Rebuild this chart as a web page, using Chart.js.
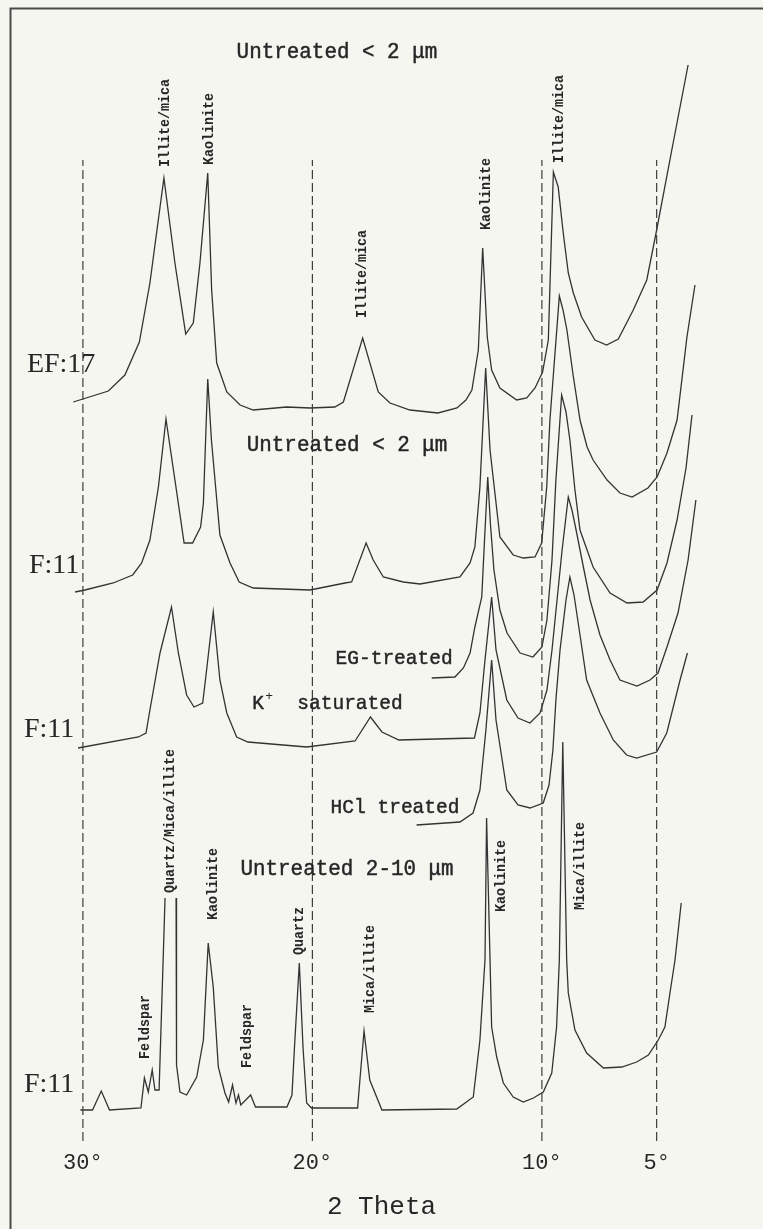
<!DOCTYPE html>
<html>
<head>
<meta charset="utf-8">
<title>XRD patterns – 2 Theta</title>
<script src="https://cdn.jsdelivr.net/npm/chart.js@4.4.1/dist/chart.umd.min.js"></script>
<style>
  html, body { margin: 0; padding: 0; background: #f6f6f0; }
  #wrap { width: 763px; height: 1229px; position: relative; }
  canvas { display: block; }
</style>
</head>
<body>
<div id="wrap"><canvas id="xrd" width="763" height="1229"></canvas></div>
<script>
// ---------------------------------------------------------------
// Diffractograms: [2θ in degrees, intensity above the pattern's own
// baseline, arbitrary units]. Each pattern is stacked on its offset.
// ---------------------------------------------------------------
const ef17Untreated = [
  [30.42, 11], [28.89, 22], [28.17, 38], [27.54, 71], [27.08, 130], [26.47, 235],
  [25.99, 150], [25.52, 79], [25.19, 90], [24.90, 150], [24.56, 240], [24.39, 123],
  [24.17, 50], [23.73, 21], [23.15, 8], [22.58, 3], [21.12, 6], [20.10, 5],
  [19.02, 6], [18.65, 11], [17.81, 75], [17.13, 21], [16.62, 10], [15.75, 3],
  [14.53, 0], [13.70, 5], [13.31, 13], [13.05, 23], [12.77, 63], [12.58, 165],
  [12.38, 76], [12.19, 43], [11.83, 25], [11.10, 13], [10.66, 15], [10.30, 25],
  [9.97, 41], [9.72, 73], [9.50, 241], [9.29, 226], [9.07, 180], [8.85, 140],
  [8.63, 120], [8.27, 96], [7.69, 73], [7.18, 68], [6.67, 74], [6.02, 103],
  [5.43, 133], [5.00, 183], [4.34, 263], [3.63, 348]
];

const f11Untreated = [
  [30.34, 0], [29.91, 2], [28.68, 9], [27.83, 17], [27.44, 29], [27.08, 52],
  [26.71, 105], [26.38, 173], [25.99, 112], [25.59, 49], [25.22, 49], [24.87, 65],
  [24.75, 89], [24.56, 213], [24.40, 152], [24.03, 57], [23.59, 29], [23.19, 10],
  [22.58, 4], [20.10, 2], [18.58, 9], [18.29, 10], [17.66, 49], [17.35, 32],
  [16.91, 15], [16.04, 10], [15.31, 8], [13.57, 15], [13.13, 29], [12.92, 45],
  [12.70, 105], [12.45, 224], [12.26, 142], [11.83, 55], [11.25, 37], [10.81, 34],
  [10.30, 35], [10.01, 49], [9.79, 105], [9.65, 172], [9.24, 296], [9.08, 282],
  [8.91, 262], [8.64, 217], [8.34, 172], [8.03, 145], [7.77, 132], [7.16, 112],
  [6.60, 99], [6.07, 95], [5.38, 104], [4.98, 115], [4.55, 139], [4.11, 172],
  [3.68, 255], [3.33, 307]
];

const f11Glycolated = [
  [14.80, 0], [13.79, 1], [13.42, 10], [13.13, 25], [12.92, 51], [12.62, 81],
  [12.50, 138], [12.36, 201], [12.24, 153], [12.09, 108], [11.83, 68], [11.52, 45],
  [10.95, 25], [10.39, 21], [10.00, 31], [9.78, 58], [9.56, 118], [9.39, 198],
  [9.14, 283], [8.95, 266], [8.78, 238], [8.56, 188], [8.34, 148], [7.77, 111],
  [7.03, 85], [6.29, 75], [5.59, 76], [4.98, 88], [4.55, 115], [4.11, 158],
  [3.72, 210], [3.46, 263]
];

const f11Potassium = [
  [30.21, 0], [27.58, 11], [27.25, 15], [27.08, 38], [26.64, 95], [26.14, 141],
  [25.84, 95], [25.48, 53], [25.16, 41], [24.78, 45], [24.61, 78], [24.32, 136],
  [24.03, 68], [23.73, 35], [23.30, 11], [22.81, 6], [20.25, 1], [18.14, 7],
  [17.47, 31], [16.97, 16], [16.23, 8], [12.94, 10], [12.70, 35], [12.48, 88],
  [12.19, 151], [12.00, 98], [11.53, 48], [11.04, 30], [10.52, 25], [10.08, 35],
  [9.78, 58], [9.56, 98], [9.34, 148], [9.12, 198], [8.85, 251], [8.69, 238],
  [8.51, 218], [8.21, 183], [7.90, 148], [7.47, 113], [7.03, 88], [6.60, 68],
  [5.86, 62], [5.29, 68], [4.94, 75], [4.55, 101], [4.07, 135], [3.63, 188],
  [3.29, 248]
];

const f11Acid = [
  [15.46, 0], [13.57, 3], [13.00, 12], [12.70, 35], [12.44, 95], [12.19, 165],
  [12.00, 105], [11.53, 35], [11.04, 20], [10.52, 17], [9.94, 22], [9.69, 40],
  [9.52, 75], [9.39, 125], [9.21, 175], [8.95, 225], [8.78, 248], [8.60, 230],
  [8.34, 190], [8.05, 145], [7.47, 112], [6.89, 85], [6.31, 70], [5.87, 67],
  [5.00, 73], [4.56, 92], [3.98, 145], [3.66, 172]
];

// coarse fraction; the strongest quartz/mica reflection runs off scale (null = break)
const f11Coarse = [
  [30.11, 0], [29.58, 0], [29.20, 19], [28.84, 0], [27.47, 2], [27.32, 32],
  [27.15, 18], [26.98, 40], [26.86, 20], [26.68, 20], [26.42, 212], [26.18, null],
  [25.94, 212], [25.92, 45], [25.77, 18], [25.48, 15], [25.04, 33], [24.75, 70],
  [24.54, 167], [24.32, 123], [24.10, 43], [23.81, 17], [23.65, 8], [23.48, 25],
  [23.33, 7], [23.22, 15], [23.12, 5], [22.69, 15], [22.48, 3], [21.11, 3],
  [20.89, 15], [20.78, 63], [20.57, 147], [20.41, 63], [20.25, 7], [20.04, 2],
  [18.03, 2], [17.93, 30], [17.75, 79], [17.50, 30], [16.97, 0], [13.71, 1],
  [12.99, 13], [12.70, 70], [12.48, 150], [12.41, 292], [12.26, 150], [12.19, 83],
  [11.97, 53], [11.68, 27], [11.25, 13], [10.81, 8], [10.37, 12], [9.94, 18],
  [9.57, 37], [9.36, 83], [9.24, 150], [9.09, 368], [8.92, 150], [8.85, 117],
  [8.56, 80], [8.05, 57], [7.32, 42], [6.52, 43], [5.87, 48], [5.36, 55],
  [4.93, 70], [4.64, 83], [4.42, 117], [4.20, 150], [3.93, 207]
];

// vertical stacking offsets of the patterns (same units as intensity)
const patternOffsets = [728, 549, 463, 393, 316, 31];

// reference 2θ positions marked by dashed lines and labelled on the axis
const tickDegrees = [30, 20, 10, 5];
const guideHeight = 981;

// ---------------------------------------------------------------
// Text placed in data space: [text, 2θ, level]
// ---------------------------------------------------------------
const headings = [
  ['Untreated < 2 \u03bcm', 18.93, 1089],
  ['Untreated < 2 \u03bcm', 18.49, 696],
  ['Untreated 2-10 \u03bcm', 18.49, 272]
];
const treatments = [
  ['EG-treated', 16.44, 483],
  ['HCl treated', 16.40, 334]
];
const saturation = ['K', '+', 'saturated', 22.62, 438];
const sampleNames = [
  ['EF:17', 32.44, 776],
  ['F:11', 32.35, 575],
  ['F:11', 32.57, 411],
  ['F:11', 32.57, 56]
];
const peakNames = [
  ['Illite/mica', 26.40, 974],
  ['Kaolinite', 24.51, 976],
  ['Illite/mica', 17.82, 823],
  ['Kaolinite', 12.45, 911],
  ['Illite/mica', 9.27, 978],
  ['Feldspar', 27.29, 82],
  ['Quartz/Mica/illite', 26.19, 248],
  ['Kaolinite', 24.34, 221],
  ['Feldspar', 22.85, 73],
  ['Quartz', 20.57, 186],
  ['Mica/illite', 17.49, 128],
  ['Kaolinite', 11.78, 229],
  ['Mica/illite', 8.32, 231]
];

// ---------------------------------------------------------------
const INK = '#262626';
const LINE = '#333333';
const PAPER = '#f6f6f0';

const patterns = [ef17Untreated, f11Untreated, f11Glycolated, f11Potassium, f11Acid, f11Coarse];

const traceSets = patterns.map((p, i) => ({
  data: p.map(([t, c]) => ({ x: t, y: c === null ? null : patternOffsets[i] + c })),
  borderColor: LINE,
  borderWidth: 1.3,
  pointRadius: 0,
  fill: false,
  spanGaps: false,
  tension: 0
}));

const guideSets = tickDegrees.map(d => ({
  data: [{ x: d, y: 0 }, { x: d, y: guideHeight }],
  borderColor: '#3e3e3e',
  borderWidth: 1.2,
  borderDash: [9, 4],
  pointRadius: 0,
  fill: false
}));

const paper = {
  id: 'paper',
  beforeDraw(chart) {
    const { ctx, width, height } = chart;
    ctx.save();
    ctx.fillStyle = PAPER;
    ctx.fillRect(0, 0, width, height);
    ctx.strokeStyle = '#4a4a4a';
    ctx.lineWidth = 2;
    ctx.beginPath();
    ctx.moveTo(10.5, height);
    ctx.lineTo(10.5, 8.5);
    ctx.lineTo(width, 8.5);
    ctx.stroke();
    ctx.restore();
  }
};

// typewriter-like text: fill plus a hair stroke for weight
function textAt(ctx, text, px, py, font, align, squeeze, weight) {
  ctx.save();
  ctx.translate(px, py);
  ctx.scale(squeeze, 1);
  ctx.font = font;
  ctx.textAlign = align;
  ctx.textBaseline = 'middle';
  ctx.fillText(text, 0, 0);
  if (weight) {
    ctx.lineWidth = weight;
    ctx.strokeStyle = INK;
    ctx.strokeText(text, 0, 0);
  }
  ctx.restore();
}

const captions = {
  id: 'captions',
  afterDatasetsDraw(chart) {
    const { ctx } = chart;
    const xs = chart.scales.x, ys = chart.scales.y;
    const X = v => xs.getPixelForValue(v);
    const Y = v => ys.getPixelForValue(v);
    ctx.save();
    ctx.fillStyle = INK;

    headings.forEach(([t, a, b]) => textAt(ctx, t, X(a), Y(b), '22px "Liberation Mono"', 'center', 0.95, 0.45));
    treatments.forEach(([t, a, b]) => textAt(ctx, t, X(a), Y(b), '21px "Liberation Mono"', 'center', 0.93, 0.45));

    // K⁺ saturated, with a raised plus sign
    {
      const [k, plus, word, a, b] = saturation;
      const px = X(a), py = Y(b);
      textAt(ctx, k, px, py, '21px "Liberation Mono"', 'left', 0.93, 0.45);
      textAt(ctx, plus, px + 13, py - 6, '13px "Liberation Mono"', 'left', 1, 0);
      textAt(ctx, word, px + 45, py, '21px "Liberation Mono"', 'left', 0.93, 0.45);
    }

    sampleNames.forEach(([t, a, b]) => textAt(ctx, t, X(a), Y(b), '28px "Liberation Serif"', 'left', 1, 0));

    peakNames.forEach(([t, a, b]) => {
      ctx.save();
      ctx.translate(X(a), Y(b));
      ctx.rotate(-Math.PI / 2);
      ctx.scale(0.86, 1);
      ctx.font = 'bold 15.5px "Liberation Mono"';
      ctx.textAlign = 'left';
      ctx.textBaseline = 'middle';
      ctx.fillText(t, 0, 0);
      ctx.restore();
    });
    ctx.restore();
  }
};

new Chart(document.getElementById('xrd'), {
  type: 'line',
  data: { datasets: [...guideSets, ...traceSets] },
  options: {
    responsive: false,
    animation: false,
    devicePixelRatio: 1,
    layout: { padding: 0 },
    plugins: {
      legend: { display: false },
      tooltip: { enabled: false },
      title: { display: false }
    },
    elements: { point: { radius: 0 }, line: { tension: 0 } },
    scales: {
      x: {
        type: 'linear',
        reverse: true,
        min: 0.366,
        max: 33.612,
        grid: { display: false, drawTicks: false },
        border: { display: false },
        afterBuildTicks: s => { s.ticks = tickDegrees.map(v => ({ value: v })); },
        afterFit: s => { s.height = 88; },
        ticks: {
          autoSkip: false,
          maxRotation: 0,
          padding: 9,
          color: INK,
          font: { family: 'Liberation Mono', size: 22 },
          callback: v => v + '\u00b0'
        },
        title: {
          display: true,
          text: '2 Theta',
          color: INK,
          font: { family: 'Liberation Mono', size: 26 },
          padding: { top: 0, bottom: 6 }
        }
      },
      y: { display: false, min: 0, max: 1141 }
    }
  },
  plugins: [paper, captions]
});
</script>
</body>
</html>
